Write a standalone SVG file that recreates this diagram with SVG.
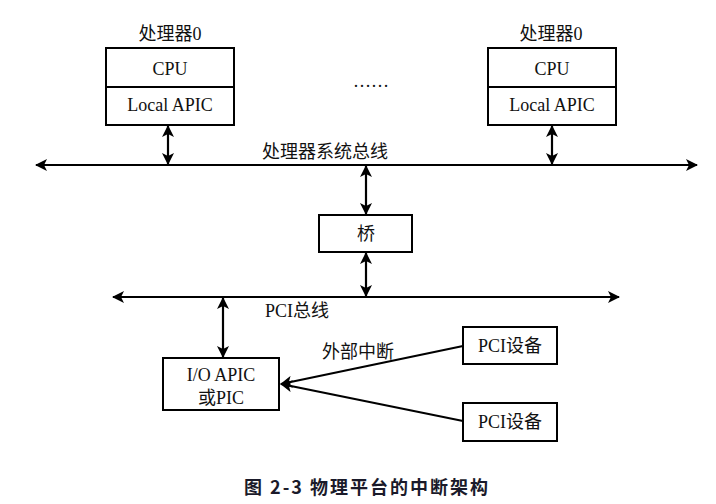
<svg xmlns="http://www.w3.org/2000/svg" width="716" height="504" viewBox="0 0 716 504">
<style>
.box{fill:#fff;stroke:#000;stroke-width:2}
.t{font-family:"Liberation Serif","Noto Sans CJK SC",serif;font-size:18px;fill:#111;text-anchor:middle}
.ln{stroke:#000;stroke-width:2.2;fill:none}
.cap{font-family:"Noto Sans CJK SC","DejaVu Sans",sans-serif;font-size:18px;font-weight:bold;fill:#1a1a2a;text-anchor:middle;letter-spacing:2px}
</style>
<defs>
<marker id="ah" viewBox="0 0 12 12" refX="11" refY="6" markerWidth="12" markerHeight="12" markerUnits="userSpaceOnUse" orient="auto-start-reverse">
<path d="M0,0 L12,6 L0,12 L3,6 Z" fill="#000"/>
</marker>
</defs>
<g id="cpu0">
<rect class="box" x="106" y="48" width="128" height="77"/>
<line class="ln" x1="106" y1="87" x2="234" y2="87" stroke-width="2"/>
<text class="t" x="170" y="40">处理器0</text>
<text class="t" x="170" y="75">CPU</text>
<text class="t" x="170" y="111">Local APIC</text>
</g>
<g id="cpuN">
<rect class="box" x="488" y="48" width="128" height="77"/>
<line class="ln" x1="488" y1="87" x2="616" y2="87" stroke-width="2"/>
<text class="t" x="551" y="40">处理器0</text>
<text class="t" x="552" y="75">CPU</text>
<text class="t" x="552" y="111">Local APIC</text>
</g>
<g id="dots"><text class="t" x="371" y="87">……</text></g>
<g id="bridge">
<rect class="box" x="319" y="215" width="93" height="37"/>
<text class="t" x="366" y="240">桥</text>
</g>
<g id="ioapic">
<rect class="box" x="163" y="358" width="116" height="52"/>
<text class="t" x="221" y="381">I/O APIC</text>
<text class="t" x="221" y="404">或PIC</text>
</g>
<g id="pci1">
<rect class="box" x="463" y="327" width="94" height="37"/>
<text class="t" x="510" y="352">PCI设备</text>
</g>
<g id="pci2">
<rect class="box" x="463" y="403" width="94" height="38"/>
<text class="t" x="510" y="428">PCI设备</text>
</g>
<g id="connectors">
<line class="ln" x1="36" y1="165" x2="697" y2="165" marker-start="url(#ah)" marker-end="url(#ah)"/>
<line class="ln" x1="113" y1="297" x2="619" y2="297" marker-start="url(#ah)" marker-end="url(#ah)"/>
<line class="ln" x1="168" y1="126" x2="168" y2="164" marker-start="url(#ah)" marker-end="url(#ah)"/>
<line class="ln" x1="552" y1="126" x2="552" y2="164" marker-start="url(#ah)" marker-end="url(#ah)"/>
<line class="ln" x1="366" y1="166" x2="366" y2="214" marker-start="url(#ah)" marker-end="url(#ah)"/>
<line class="ln" x1="366" y1="253" x2="366" y2="296" marker-start="url(#ah)" marker-end="url(#ah)"/>
<line class="ln" x1="223" y1="298" x2="223" y2="357" marker-start="url(#ah)" marker-end="url(#ah)"/>
<line class="ln" x1="463" y1="346" x2="281" y2="384" marker-end="url(#ah)"/>
<line class="ln" x1="463" y1="421" x2="281" y2="384" marker-end="url(#ah)"/>
<text class="t" x="325" y="158">处理器系统总线</text>
<text class="t" x="297" y="317">PCI总线</text>
<text class="t" x="358" y="358">外部中断</text>
</g>
<text class="cap" x="367" y="494" xml:space="preserve">图 2-3 物理平台的中断架构</text>
</svg>
